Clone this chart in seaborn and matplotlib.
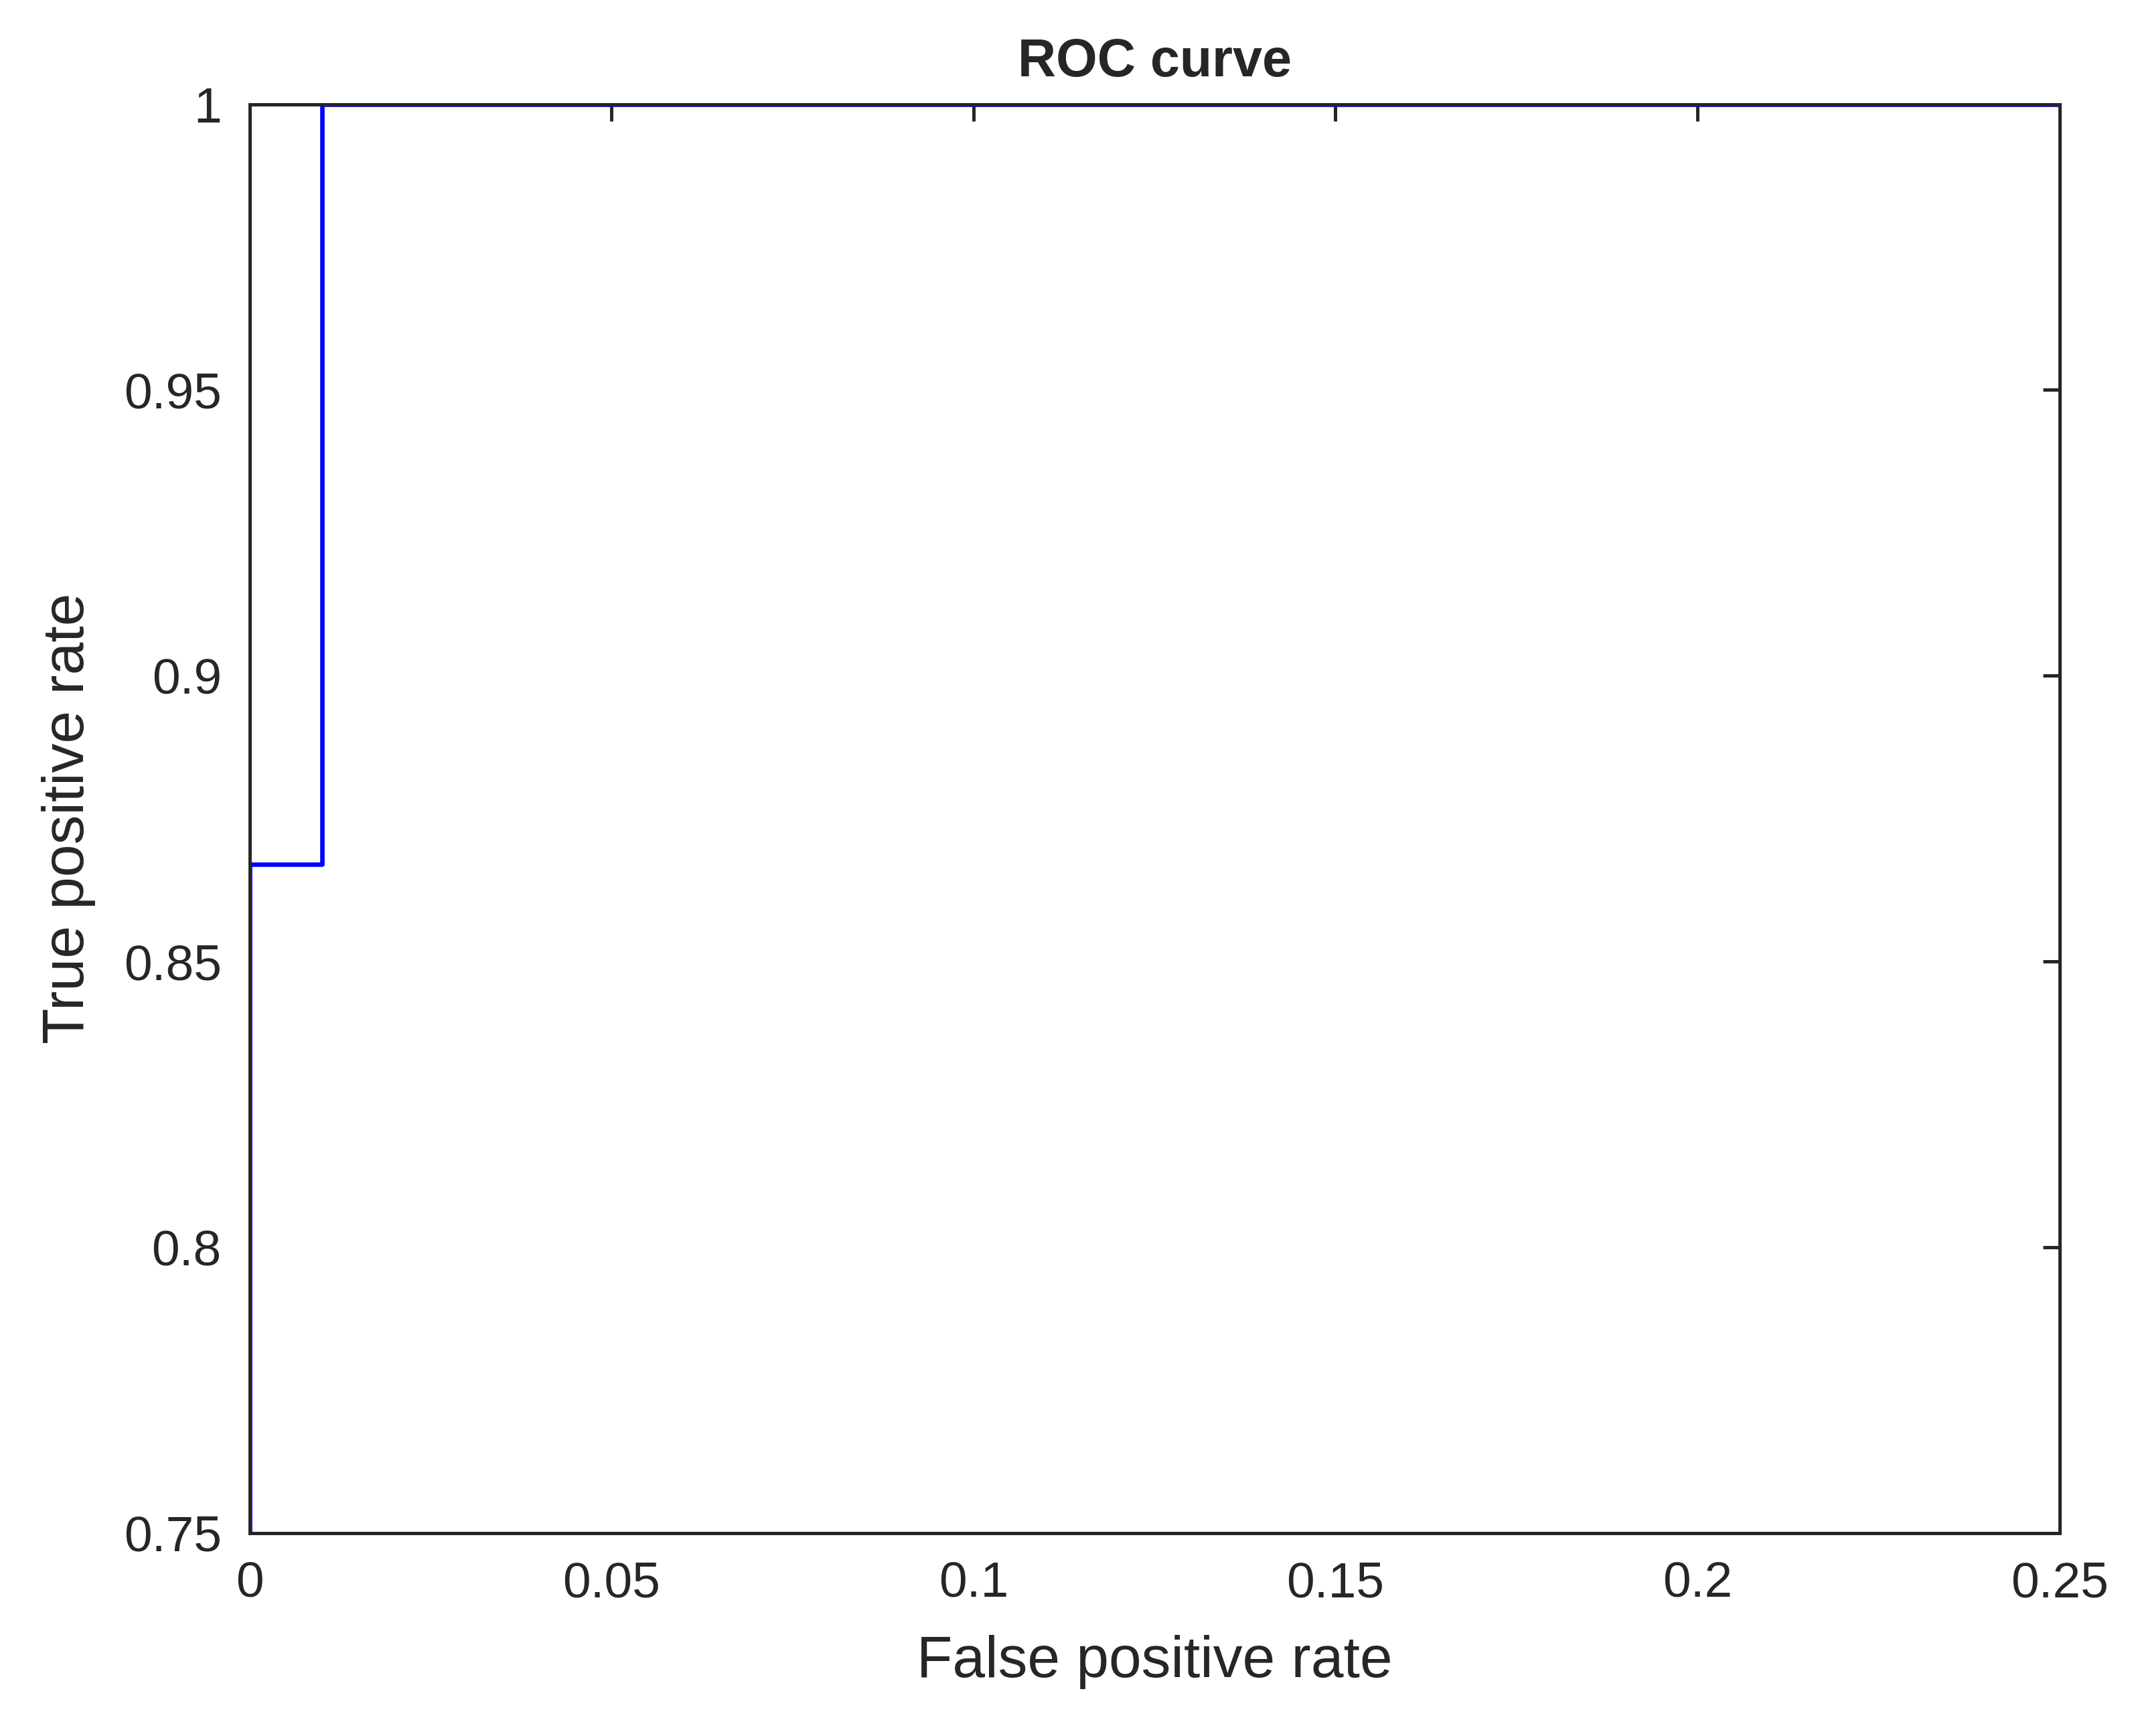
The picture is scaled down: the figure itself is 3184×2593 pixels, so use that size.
import numpy as np
import matplotlib
matplotlib.use("Agg")
import matplotlib.pyplot as plt
import seaborn as sns

# ROC curve points (step shape)
fpr = [0.0, 0.0, 0.01, 0.01, 0.25]
tpr = [0.0, 0.867, 0.867, 1.0, 1.0]
xticks = [0, 0.05, 0.1, 0.15, 0.2, 0.25]
xticklabels = ["0", "0.05", "0.1", "0.15", "0.2", "0.25"]
yticks = [0.75, 0.8, 0.85, 0.9, 0.95, 1.0]
yticklabels = ["0.75", "0.8", "0.85", "0.9", "0.95", "1"]

sns.set_style("white")
plt.rcParams["font.family"] = ["Liberation Sans", "DejaVu Sans"]

fig = plt.figure(figsize=[3184 / 300, 2593 / 300], dpi=300)
ax = fig.add_axes([0.117, 0.117, 0.849, 0.823])

sns.lineplot(x=fpr, y=tpr, ax=ax, color="#0000ff", linewidth=1.6, sort=False,
             estimator=None)

ax.set_xlim(0, 0.25)
ax.set_ylim(0.75, 1.0)
ax.set_xticks(xticks, xticklabels)
ax.set_yticks(yticks, yticklabels)
ax.tick_params(direction="in", top=True, right=True, length=6, width=1.2,
               labelsize=18, colors="#262626", pad=10)
for s in ax.spines.values():
    s.set_linewidth(1.2)
    s.set_color("#262626")
ax.set_xlabel("False positive rate", fontsize=21, color="#262626", labelpad=10)
ax.set_ylabel("True positive rate", fontsize=21, color="#262626", labelpad=10)
ax.set_title("ROC curve", fontsize=19, fontweight="bold", pad=10)

fig.savefig("out.png", dpi=300)
